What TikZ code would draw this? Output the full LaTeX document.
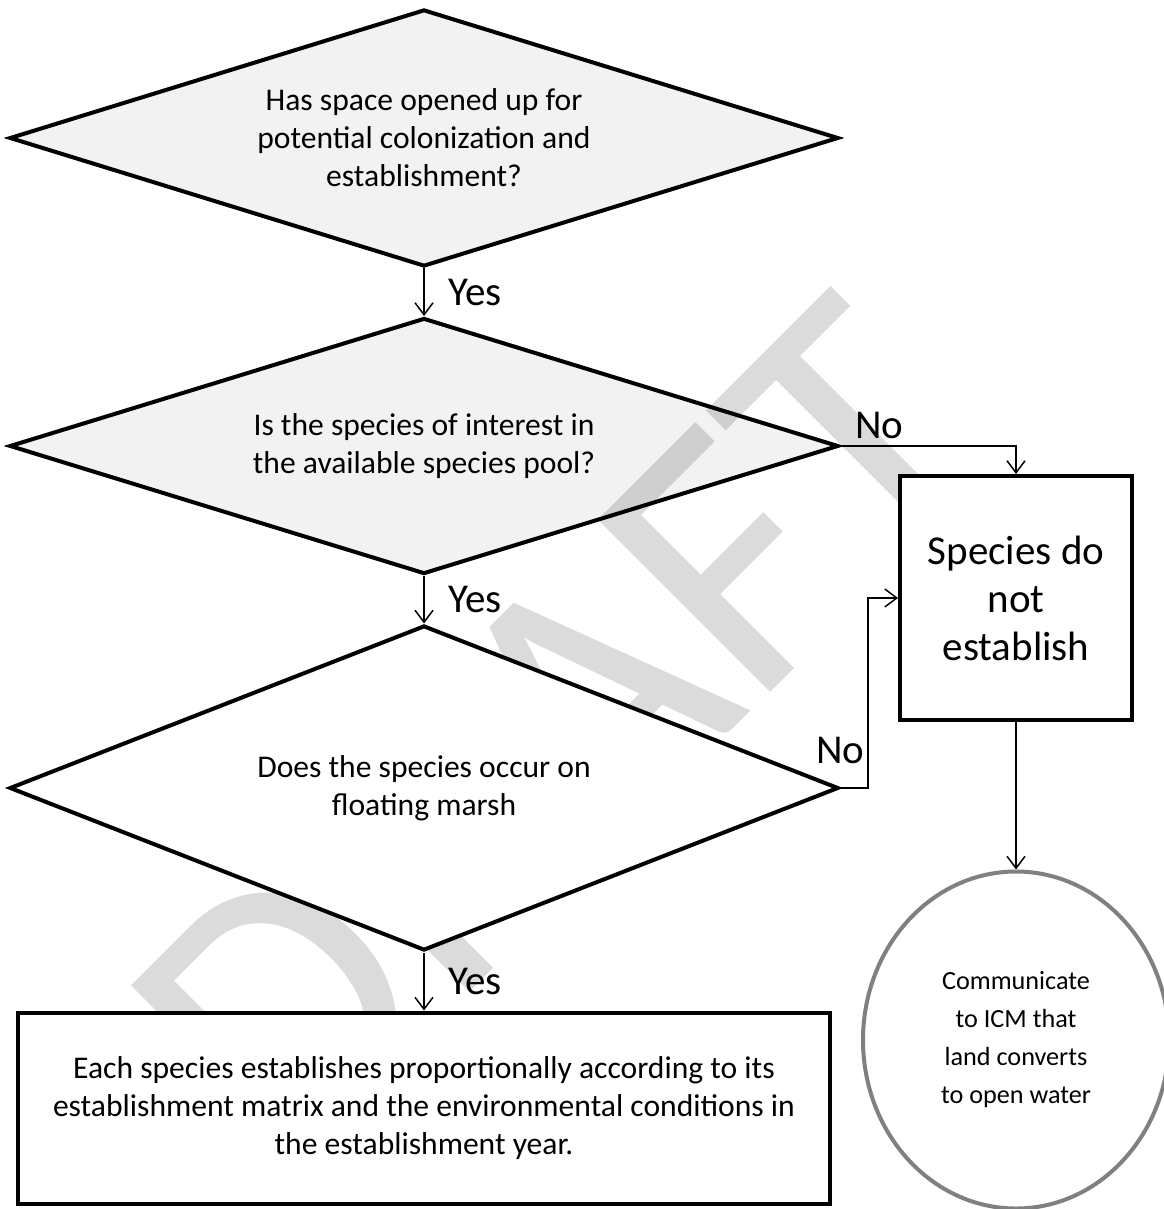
\documentclass[tikz,border=0pt]{standalone}
\usepackage{fontspec}
\setmainfont{Carlito}
\usetikzlibrary{shapes.geometric,arrows.meta,positioning}

\begin{document}
\begin{tikzpicture}[x=0.5pt, y=-0.5pt, ->, >={Straight Barb[length=6pt,width=9pt]}, line width=0.75pt,
  ask node/.style={diamond, draw, line width=2pt, inner sep=0pt, aspect=3.26, minimum width=414.5pt, align=center, font=\fontsize{15.8}{19}\selectfont},
  grey ask/.style={fill=black, fill opacity=0.05, text opacity=1},
  box node/.style={rectangle, draw, fill=white, line width=2pt, align=center}]
        \tikzstyle{every node}=[font=\fontsize{20.5}{24}\selectfont]
        \useasboundingbox (0,0) rectangle (1163,1209);

          % watermark
          \node[font=\fontsize{190}{190}\selectfont, text=black!14, rotate=45] (w) at (560,730) {DRAFT};

          \node[ask node, grey ask, minimum height=128.5pt] (1) at (424,138) {Has space opened up for\\potential colonization and\\establishment?};
          \node[ask node, grey ask, minimum height=128pt] (2) at (424,446) {Is the species of interest in\\the available species pool?};
          \node[ask node, fill=white, minimum height=162.5pt] (3) at (424,788) {Does the species occur on\\floating marsh};
          \node[box node, minimum width=406pt, minimum height=95.5pt, font=\fontsize{15.8}{19}\selectfont] (4) at (424,1108) {Each species establishes proportionally according to its\\establishment matrix and the environmental conditions in\\the establishment year.};
          \node[box node, minimum width=116pt, minimum height=122pt] (5) at (1016,598) {Species do\\not\\establish};
          \node[ellipse, draw=black!50, line width=2pt, fill=white, minimum width=153pt, minimum height=168.5pt, align=center, font=\fontsize{13.1}{19}\selectfont] (6) at (1016,1040) {Communicate\\to ICM that\\land converts\\to open water};
          \coordinate (k) at (868,788);

          \path
            (1) edge node [right=8.5pt] {Yes} (2)
            (2) edge node [right=8.5pt] {Yes} (3)
            (3) edge node [right=8.5pt] {Yes} (4)
            (5) edge (6);
          \draw (2.east) -| node [pos=0.11, above] {No} (5.north);
          \draw (3.east) -- (k) |- node [pos=0.1, left=-2pt] {No} (5.west);

        \end{tikzpicture}
\end{document}
